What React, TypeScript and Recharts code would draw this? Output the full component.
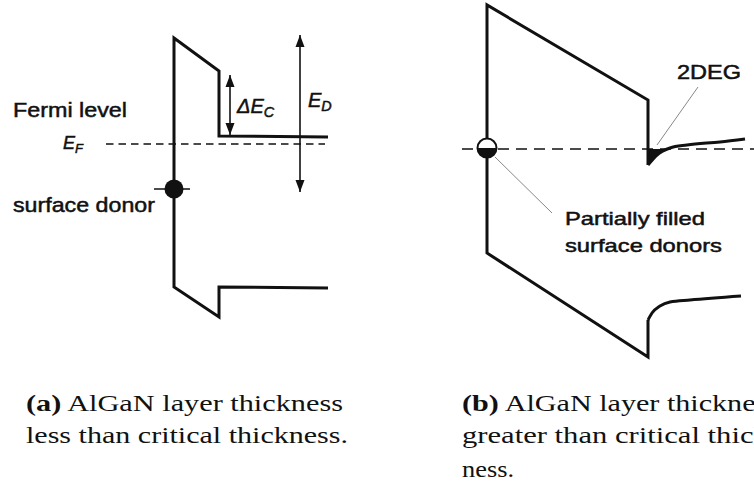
import React from 'react';
import { ComposedChart, Line, Area, Scatter, XAxis, YAxis } from 'recharts';

const W = 754;
const H = 491;

// Panel (a): band edges, AlGaN thinner than critical thickness (x = position, y = energy, screen-down)
const bandEdgesA = [
  { x: 328, y: 137 }, { x: 219, y: 136 }, { x: 219, y: 71 }, { x: 174, y: 38 },
  { x: 174, y: 287 }, { x: 219, y: 317 }, { x: 219, y: 287 }, { x: 328, y: 288 },
];
const fermiA = [{ x: 106, y: 144 }, { x: 325, y: 144 }];
const donorA = [{ x: 174, y: 189 }];
const donorTickA = [{ x: 154, y: 189 }, { x: 190, y: 189 }];
const deltaEcShaft = [{ x: 230, y: 75 }, { x: 230, y: 135 }];
const edShaft = [{ x: 300, y: 35 }, { x: 300, y: 192 }];
const arrowHeads = [
  { x: 230, y: 75, dir: 'up' }, { x: 230, y: 135, dir: 'down' },
  { x: 300, y: 35, dir: 'up' }, { x: 300, y: 192, dir: 'down' },
];

// Panel (b): band edges, AlGaN thicker than critical thickness
const bandEdgesB = [
  { x: 648, y: 165 }, { x: 648, y: 100 }, { x: 487, y: 5 }, { x: 487, y: 253 },
  { x: 648, y: 357 }, { x: 648, y: 320 },
];
const conductionTailB = [
  { x: 648, y: 165 }, { x: 657, y: 155 }, { x: 670, y: 148 }, { x: 687, y: 145 },
  { x: 720, y: 142 }, { x: 745, y: 139 },
];
const valenceTailB = [
  { x: 648, y: 320 }, { x: 652, y: 313 }, { x: 660, y: 306 }, { x: 670, y: 302 },
  { x: 690, y: 300 }, { x: 741, y: 296 },
];
const fermiB = [{ x: 462, y: 149 }, { x: 754, y: 149 }];
const twoDegWell = [
  { x: 648, range: [149, 165] }, { x: 652, range: [149, 160] }, { x: 657, range: [149, 155] },
  { x: 663, range: [149, 151] }, { x: 669, range: [149, 149] },
];
const donorB = [{ x: 487, y: 148 }];
const leader2deg = [{ x: 698, y: 87 }, { x: 657, y: 145 }];
const leaderDonor = [{ x: 495, y: 157 }, { x: 552, y: 213 }];

// Text annotations
const plainLabels = [
  { x: 13, y: 117, text: 'Fermi level', size: 21, width: 114 },
  { x: 13, y: 212, text: 'surface donor', size: 21, width: 142 },
  { x: 677, y: 79, text: '2DEG', size: 19.5, width: 64 },
  { x: 565, y: 225, text: 'Partially filled', size: 19, width: 140 },
  { x: 565, y: 252, text: 'surface donors', size: 19, width: 157 },
];
const symbolLabels = [
  { x: 63, y: 149, main: 'E', sub: 'F', size: 18 },
  { x: 237, y: 113, main: 'ΔE', sub: 'C', size: 20 },
  { x: 308, y: 107, main: 'E', sub: 'D', size: 20 },
];

const captionA = [
  { tag: '(a)', text: ' AlGaN layer thickness', y: 411, width: 317 },
  { tag: '', text: 'less than critical thickness.', y: 443, width: 322 },
];
const captionB = [
  { tag: '(b)', text: ' AlGaN layer thickness', y: 411, width: 317 },
  { tag: '', text: 'greater than critical thick-', y: 443, width: 317 },
  { tag: '', text: 'ness.', y: 477, width: 52 },
];

const INK = '#111';
const SANS = '"Liberation Sans", Arial, sans-serif';
const SERIF = '"Liberation Serif", "Times New Roman", serif';

const ArrowHead = (p: any) => {
  const { cx, cy, payload } = p;
  const s = payload.dir === 'up' ? 1 : -1;
  const d = `M${cx},${cy} L${cx - 4.5},${cy + s * 12} L${cx + 4.5},${cy + s * 12} Z`;
  return <path d={d} fill={INK} />;
};

const SolidDonor = (p: any) => <circle cx={p.cx} cy={p.cy} r={9.5} fill={INK} />;

const HalfDonor = (p: any) => {
  const { cx, cy } = p;
  const r = 9.5;
  return (
    <g>
      <circle cx={cx} cy={cy} r={r} fill="#fff" stroke={INK} strokeWidth={2} />
      <path d={`M${cx - r},${cy} A${r},${r} 0 0 0 ${cx + r},${cy} Z`} fill={INK} />
    </g>
  );
};

const PlainText = (p: any) => {
  const { cx, cy, payload } = p;
  return (
    <text x={cx} y={cy} fontFamily={SANS} fontSize={payload.size} fill={INK}
      textLength={payload.width} lengthAdjust="spacingAndGlyphs" stroke={INK} strokeWidth={0.5}>
      {payload.text}
    </text>
  );
};

const SymbolText = (p: any) => {
  const { cx, cy, payload } = p;
  return (
    <text x={cx} y={cy} fontFamily={SANS} fontStyle="italic" fontSize={payload.size} fill={INK}
      stroke={INK} strokeWidth={0.5}>
      {payload.main}
      <tspan fontSize={payload.size * 0.72} dy={4}>{payload.sub}</tspan>
    </text>
  );
};

const lineProps = {
  type: 'linear' as const,
  dataKey: 'y',
  dot: false,
  activeDot: false,
  isAnimationActive: false,
  stroke: INK,
};

export default function App() {
  return (
    <div style={{ position: 'absolute', left: 0, top: 0, width: W, height: H, background: '#fff' }}>
      <ComposedChart width={W} height={H} margin={{ top: 0, right: 0, bottom: 0, left: 0 }}>
        <XAxis type="number" dataKey="x" domain={[0, W]} hide allowDataOverflow />
        <YAxis type="number" dataKey="y" domain={[0, H]} reversed hide allowDataOverflow />

        <Area data={twoDegWell} dataKey="range" type="linear" fill={INK} fillOpacity={1}
          stroke="none" isAnimationActive={false} activeDot={false} />

        <Line {...lineProps} data={fermiA} strokeWidth={1.4} strokeDasharray="7.5 5" />
        <Line {...lineProps} data={fermiB} strokeWidth={1.6} strokeDasharray="11 7" />

        <Line {...lineProps} data={bandEdgesA} strokeWidth={3} strokeLinejoin="miter" />
        <Line {...lineProps} data={bandEdgesB} strokeWidth={3} strokeLinejoin="miter" />
        <Line {...lineProps} data={conductionTailB} type="monotone" strokeWidth={3} />
        <Line {...lineProps} data={valenceTailB} type="monotone" strokeWidth={3} />

        <Line {...lineProps} data={donorTickA} strokeWidth={1.4} />
        <Line {...lineProps} data={deltaEcShaft} strokeWidth={1.6} />
        <Line {...lineProps} data={edShaft} strokeWidth={1.6} />

        <Line {...lineProps} data={leader2deg} stroke="#888" strokeWidth={1} />
        <Line {...lineProps} data={leaderDonor} stroke="#888" strokeWidth={1} />

        <Scatter data={arrowHeads} shape={ArrowHead} isAnimationActive={false} />
        <Scatter data={donorA} shape={SolidDonor} isAnimationActive={false} />
        <Scatter data={donorB} shape={HalfDonor} isAnimationActive={false} />
        <Scatter data={plainLabels} shape={PlainText} isAnimationActive={false} />
        <Scatter data={symbolLabels} shape={SymbolText} isAnimationActive={false} />
      </ComposedChart>

      <svg width={W} height={H} style={{ position: 'absolute', left: 0, top: 0, pointerEvents: 'none' }}>
        {captionA.map((c, i) => (
          <text key={`a${i}`} x={26} y={c.y} fontFamily={SERIF} fontSize={24} fill="#111"
            textLength={c.width} lengthAdjust="spacingAndGlyphs" xmlSpace="preserve">
            {c.tag && <tspan fontWeight="bold">{c.tag}</tspan>}
            {c.text}
          </text>
        ))}
        {captionB.map((c, i) => (
          <text key={`b${i}`} x={462} y={c.y} fontFamily={SERIF} fontSize={24} fill="#111"
            textLength={c.width} lengthAdjust="spacingAndGlyphs" xmlSpace="preserve">
            {c.tag && <tspan fontWeight="bold">{c.tag}</tspan>}
            {c.text}
          </text>
        ))}
      </svg>
    </div>
  );
}
